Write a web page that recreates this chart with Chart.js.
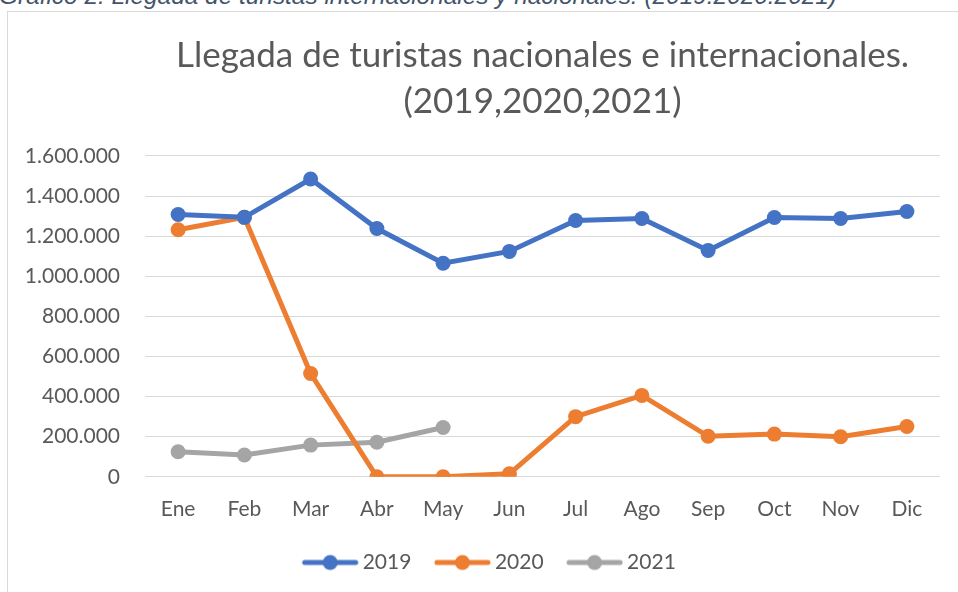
<!DOCTYPE html>
<html>
<head>
<meta charset="utf-8">
<script src="https://cdn.jsdelivr.net/npm/chart.js@4"></script>
<style>
  html, body { margin: 0; padding: 0; width: 958px; height: 592px; overflow: hidden; background: #fff; }
  #caption { position: absolute; left: -1px; top: -18px; font: italic 24.4px "Liberation Sans", Arial, sans-serif; color: #44546A; white-space: nowrap; }
  #frame { position: absolute; left: 7px; top: 11px; width: 1000px; height: 700px; border: 1px solid #D9D9D9; }
  #myChart { position: absolute; left: 8px; top: 12px; }
</style>
</head>
<body>
<div id="caption">Gráfico 2.  Llegada de turistas internacionales y nacionales. (2019:2020:2021)</div>
<div id="frame"></div>
<canvas id="myChart" width="991" height="600"></canvas>
<script>
// datos
const meses = ['Ene', 'Feb', 'Mar', 'Abr', 'May', 'Jun', 'Jul', 'Ago', 'Sep', 'Oct', 'Nov', 'Dic'];
const llegadas2019 = [1308000, 1294000, 1485000, 1238000, 1065000, 1124000, 1278000, 1288000, 1129000, 1293000, 1288000, 1323000];
const llegadas2020 = [1232000, 1294000, 515000, 0, 0, 15000, 300000, 406000, 202000, 213000, 200000, 251000];
const llegadas2021 = [125000, 109000, 158000, 172000, 246000];
const ticksY = [0, 200000, 400000, 600000, 800000, 1000000, 1200000, 1400000, 1600000];

const gris = '#595959';

// marca de la leyenda: línea con círculo, desplazada dentro de la imagen
function marcaLeyenda(color) {
    const c = document.createElement('canvas');
    c.width = 80;
    c.height = 18;
    const g = c.getContext('2d');
    g.strokeStyle = color;
    g.lineWidth = 5;
    g.lineCap = 'round';
    g.beginPath();
    g.moveTo(24, 9);
    g.lineTo(75, 9);
    g.stroke();
    g.fillStyle = color;
    g.beginPath();
    g.arc(49.5, 9, 7.5, 0, Math.PI * 2);
    g.fill();
    return c;
}

function serie(label, data, color) {
    return {
        label: label,
        data: data,
        borderColor: color,
        backgroundColor: color,
        borderWidth: 5,
        pointRadius: 7.5,
        pointHoverRadius: 7.5,
        pointBorderWidth: 0,
        pointStyle: 'circle',
        tension: 0
    };
}

const data = {
    labels: meses,
    datasets: [
        serie('2019', llegadas2019, '#4472C4'),
        serie('2020', llegadas2020, '#ED7D31'),
        serie('2021', llegadas2021, '#A5A5A5')
    ]
};

const config = {
    type: 'line',
    data: data,
    options: {
        responsive: false,
        animation: false,
        layout: { padding: { top: 0, right: 59, bottom: 29, left: 17 } },
        plugins: {
            title: {
                display: true,
                fullSize: false,
                text: ['Llegada de turistas nacionales e internacionales.', '(2019,2020,2021)'],
                color: gris,
                font: { family: 'Lato', size: 35, weight: 'normal', lineHeight: 1.314 },
                padding: { top: 21, bottom: 31 }
            },
            legend: {
                position: 'bottom',
                labels: {
                    usePointStyle: true,
                    pointStyleWidth: 63,
                    padding: 10,
                    color: gris,
                    font: { family: 'Lato', size: 21 },
                    generateLabels: function (chart) {
                        return chart.data.datasets.map(function (ds, i) {
                            return {
                                text: ds.label,
                                fontColor: gris,
                                pointStyle: marcaLeyenda(ds.borderColor),
                                lineWidth: 0,
                                strokeStyle: ds.borderColor,
                                fillStyle: ds.borderColor,
                                datasetIndex: i
                            };
                        });
                    }
                }
            },
            tooltip: { enabled: false }
        },
        scales: {
            x: {
                offset: true,
                grid: { display: false, drawTicks: false },
                border: { display: false },
                ticks: { color: gris, font: { family: 'Lato', size: 21 }, padding: 20 }
            },
            y: {
                min: 0,
                max: 1600000,
                afterBuildTicks: function (axis) {
                    axis.ticks = ticksY.map(function (v) { return { value: v }; });
                },
                afterFit: function (axis) {
                    axis.width = 120;
                },
                grid: { color: '#D9D9D9', lineWidth: 1, drawTicks: false },
                border: { display: false },
                ticks: {
                    color: gris,
                    font: { family: 'Lato', size: 21 },
                    padding: 25,
                    callback: function (v) {
                        return v.toString().replace(/\B(?=(\d{3})+(?!\d))/g, '.');
                    }
                }
            }
        }
    }
};

const myChart = new Chart(document.getElementById('myChart'), config);
</script>
</body>
</html>
